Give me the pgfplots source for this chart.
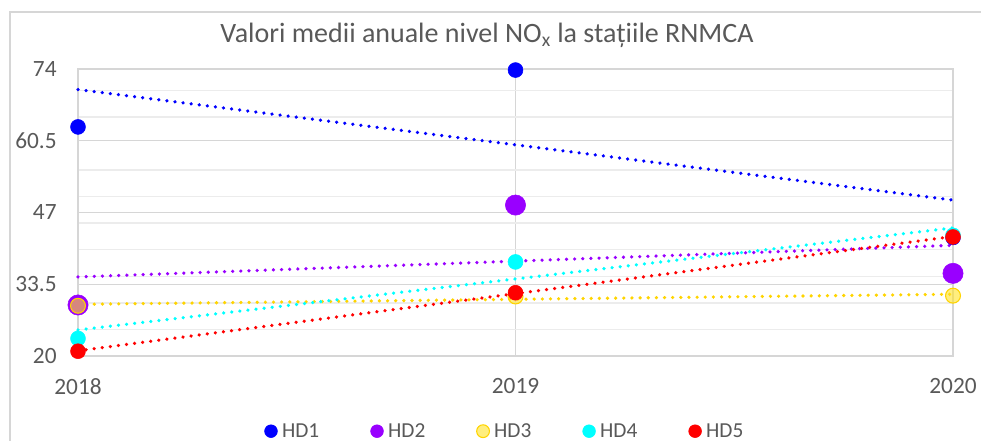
\documentclass[border=0pt]{standalone}
\usepackage{pgfplots}
\pgfplotsset{compat=1.18}
\usepackage{fontspec}
\setmainfont{Carlito}

\definecolor{hdA}{RGB}{0,0,255}
\definecolor{hdB}{RGB}{153,0,255}
\definecolor{hdC}{RGB}{255,226,40}
\definecolor{hdCline}{RGB}{255,212,0}
\definecolor{hdD}{RGB}{0,255,255}
\definecolor{hdE}{RGB}{255,0,0}
\definecolor{txt}{RGB}{89,89,89}
\definecolor{gridmaj}{RGB}{214,214,214}
\definecolor{gridmin}{RGB}{236,236,236}

\pgfplotsset{
  pt/.style={only marks, mark=*,
    legend image code/.code={\draw[##1, mark size=4.8pt] plot coordinates {(0pt,0pt)};}},
  trend/.style={forget plot, line width=2.7pt, line cap=round, dash pattern=on 0.01pt off 6.1pt},
}

\begin{document}
\begin{tikzpicture}
  \path[use as bounding box] (-58.5pt,-63.75pt) rectangle (677.25pt,267pt);
  \draw[gridmaj, line width=0.8pt] (-51pt,-70pt) -- (-51pt,258pt) -- (690pt,258pt);
  \node[txt, font=\fontsize{21}{25}\selectfont] at (306.75pt,240.75pt)
    {Valori medii anuale nivel NO\textsubscript{x} la stațiile RNMCA};
  \begin{axis}[
    at={(0,0)}, anchor=south west,
    scale only axis, width=656.25pt, height=215.25pt,
    xmin=2018, xmax=2020, ymin=20, ymax=74,
    xtick={2018,2019,2020},
    ytick={20,33.5,47,60.5,74},
    minor ytick={25,30,35,40,45,50,55,65,70},
    grid=both,
    major grid style={gridmaj, line width=1.1pt},
    minor grid style={gridmin, line width=1.1pt},
    axis line style={gridmaj, line width=1.1pt},
    major tick length=0pt, minor tick length=0pt,
    /pgf/number format/1000 sep={},
    /pgf/number format/assume math mode=true,
    ticklabel style={txt, font=\fontsize{17.5}{21}\selectfont},
    yticklabel style={xshift=-12.5pt},
    xticklabel style={yshift=-13.5pt},
    clip=false,
    legend columns=5,
    legend style={at={(0.488,-0.262)}, anchor=center, draw=none, fill=none,
      font=\fontsize{16}{19}\selectfont, text=txt,
      nodes={inner sep=1.5pt},
      /tikz/every odd column/.append style={column sep=2pt},
      /tikz/every even column/.append style={column sep=37pt}},
    legend cell align=left,
  ]
    % trend lines
    \addplot[trend, hdA] coordinates {(2018,70.133) (2020,49.333)};
    \addplot[trend, hdB] coordinates {(2018,34.875) (2020,40.825)};
    \addplot[trend, hdCline] coordinates {(2018,29.717) (2020,31.617)};
    \addplot[trend, hdD] coordinates {(2018,24.9) (2020,44.1)};
    \addplot[trend, hdE] coordinates {(2018,20.983) (2020,42.483)};
    % annual means
    \addplot[pt, draw=hdA, fill=hdA, mark size=5.6pt] coordinates {(2018,63.1) (2019,73.8) (2020,42.3)};
    \addlegendentry{HD1}
    \addplot[pt, draw=hdB, fill=hdB, mark size=7.6pt] coordinates {(2018,29.6) (2019,48.4) (2020,35.55)};
    \addlegendentry{HD2}
    \addplot[pt, draw=hdCline, fill=hdC, fill opacity=0.6, line width=0.8pt, mark size=5.6pt] coordinates {(2018,29.45) (2019,31.2) (2020,31.35)};
    \addlegendentry{HD3}
    \addplot[pt, draw=hdD, fill=hdD, mark size=5.6pt] coordinates {(2018,23.3) (2019,37.7) (2020,42.7)};
    \addlegendentry{HD4}
    \addplot[pt, draw=hdE, fill=hdE, mark size=5.6pt] coordinates {(2018,20.9) (2019,31.9) (2020,42.4)};
    \addlegendentry{HD5}
  \end{axis}
\end{tikzpicture}
\end{document}
